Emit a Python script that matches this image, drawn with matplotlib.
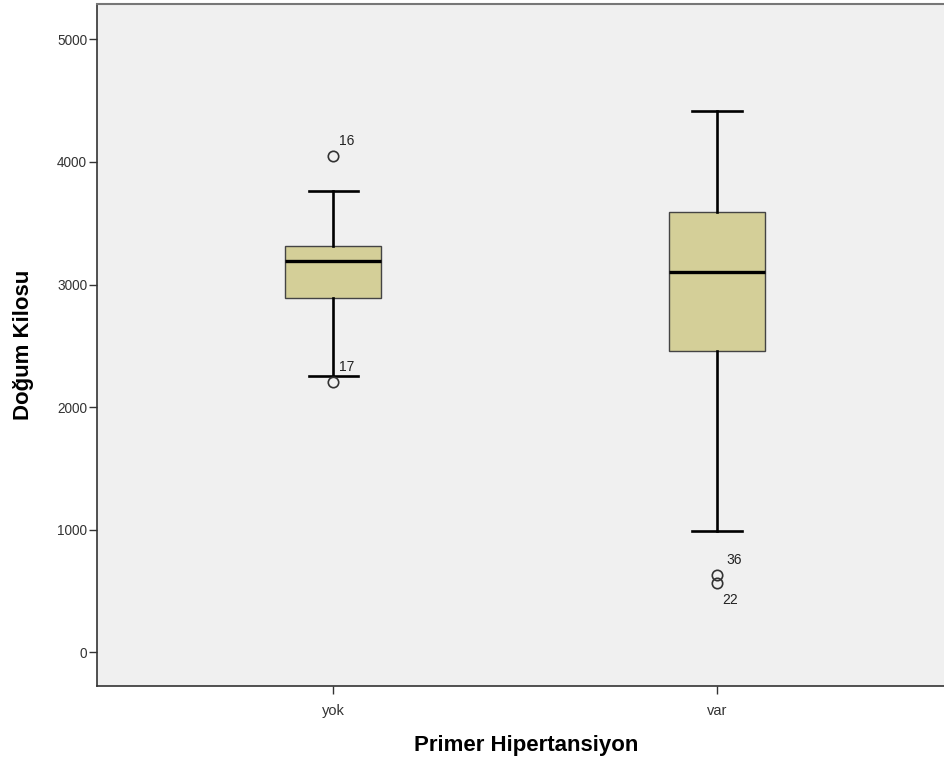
import matplotlib.pyplot as plt

# Summary values
groups = ['yok', 'var']
q1_values = [2887, 2455]
median_values = [3189, 3100]
q3_values = [3312, 3589]
whisker_low = [2251, 987]
whisker_high = [3760, 4413]
outlier_values = [[4046, 2202], [628, 563]]
outlier_ids = [['16', '17'], ['36', '22']]

Box_Color = '#D4CF98'
Background_Color = '#F0F0F0'

plt.rcParams['font.family'] = ['Liberation Sans', 'DejaVu Sans']

figure = plt.figure(figsize=(9.45, 7.6), dpi=100)
axes = figure.add_axes([0.1026, 0.0974, 0.906, 0.8974])
axes.set_facecolor(Background_Color)

stats = []
for i, name in enumerate(groups):
    stats.append({
        'label': name,
        'q1': q1_values[i],
        'med': median_values[i],
        'q3': q3_values[i],
        'whislo': whisker_low[i],
        'whishi': whisker_high[i],
        'fliers': outlier_values[i],
    })

positions = [1, 2]
axes.bxp(stats, positions=positions, widths=0.25, capwidths=0.128,
         patch_artist=True, showfliers=True,
         boxprops=dict(facecolor=Box_Color, edgecolor='#444444', linewidth=1.0),
         medianprops=dict(color='black', linewidth=2.4),
         whiskerprops=dict(color='black', linewidth=1.9),
         capprops=dict(color='black', linewidth=1.9),
         flierprops=dict(marker='o', markersize=7.5, markerfacecolor='none',
                         markeredgecolor='#333333', markeredgewidth=1.2))

# outlier case labels
label_offsets = {'16': (4, 11), '17': (4, 11), '36': (7, 11), '22': (4, -12)}
for i, pos in enumerate(positions):
    for value, case_id in zip(outlier_values[i], outlier_ids[i]):
        dx, dy = label_offsets[case_id]
        axes.annotate(case_id, (pos, value), xytext=(dx, dy), textcoords='offset points',
                      fontsize=10, color='#222222', va='center', ha='left')

axes.set_xlim(0.385, 2.615)
axes.set_ylim(-277, 5290)
axes.set_yticks([0, 1000, 2000, 3000, 4000, 5000])
axes.set_xticks(positions)
axes.set_xticklabels(groups)
axes.tick_params(axis='both', colors='#333333', length=6, width=1)
axes.tick_params(axis='y', labelsize=9.8, pad=1)
axes.tick_params(axis='x', labelsize=10.5, pad=7)

for side in ['left', 'bottom']:
    axes.spines[side].set_color('#333333')
    axes.spines[side].set_linewidth(1.2)
axes.spines['top'].set_color('#777777')
axes.spines['top'].set_linewidth(1.5)
axes.spines['right'].set_visible(False)

axes.set_ylabel('Doğum Kilosu', fontsize=16, fontweight='bold')
axes.set_xlabel('Primer Hipertansiyon', fontsize=16, fontweight='bold')
axes.yaxis.set_label_coords(-0.073, 0.5)
axes.xaxis.set_label_coords(0.501, -0.072)

figure.savefig('out.png', dpi=100)
